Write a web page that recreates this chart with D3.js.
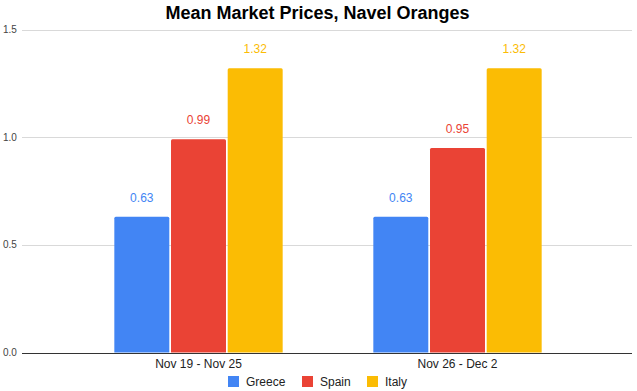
<!DOCTYPE html>
<html>
<head>
    <title>Mean Market Prices, Navel Oranges</title>
    <script src="https://d3js.org/d3.v7.min.js"></script>
    <style>
        body { margin: 0; background: #fff; }
        text { font-family: Arial, "Liberation Sans", sans-serif; }
        .grid line { stroke: #d9d9d9; stroke-width: 1px; }
        .tick-label { font-size: 10px; fill: #444; }
    </style>
</head>
<body>
<script>
    // data
    var weeks = ["Nov 19 - Nov 25", "Nov 26 - Dec 2"];
    var countries = ["Greece", "Spain", "Italy"];
    var greece = [0.63, 0.63];
    var spain = [0.99, 0.95];
    var italy = [1.32, 1.32];
    var yTicks = [0, 0.5, 1.0, 1.5];
    var colors = ["#4285F4", "#EA4335", "#FBBC04"];

    var series = [greece, spain, italy];
    var width = 637, height = 391;

    var svg = d3.select("body").append("svg")
        .attr("width", width)
        .attr("height", height);

    var y = d3.scaleLinear().domain([0, 1.5]).range([352.5, 29.5]);
    var x0 = d3.scaleBand().domain(weeks).range([69, 587])
        .paddingInner(0.35).paddingOuter(0.175);
    var x1 = d3.scaleBand().domain(countries).range([0, x0.bandwidth()])
        .paddingInner(0.03);
    var color = d3.scaleOrdinal().domain(countries).range(colors);

    // title
    svg.append("text")
        .attr("x", 317.5)
        .attr("y", 18.5)
        .attr("text-anchor", "middle")
        .style("font-size", "18px")
        .style("font-weight", "bold")
        .style("fill", "#000")
        .text("Mean Market Prices, Navel Oranges");

    // gridlines + y labels
    var grid = svg.append("g").attr("class", "grid");
    grid.selectAll("line")
        .data(yTicks.filter(d => d > 0))
        .enter().append("line")
        .attr("x1", 22).attr("x2", 632)
        .attr("y1", d => Math.round(y(d)) + 0.5)
        .attr("y2", d => Math.round(y(d)) + 0.5);

    svg.append("g").selectAll("text")
        .data(yTicks)
        .enter().append("text")
        .attr("class", "tick-label")
        .attr("x", 3)
        .attr("y", d => y(d) + 3.5)
        .text(d => d.toFixed(1));

    // bars
    var rows = [];
    weeks.forEach(function(w, i) {
        countries.forEach(function(c, j) {
            rows.push({week: w, country: c, value: series[j][i]});
        });
    });

    var bars = svg.append("g").selectAll("g")
        .data(rows)
        .enter().append("g")
        .attr("transform", d => "translate(" + (x0(d.week) + x1(d.country)) + ",0)");

    bars.append("path")
        .attr("fill", d => color(d.country))
        .attr("d", function(d) {
            var w = x1.bandwidth(), top = y(d.value), bot = y(0), r = 1.5;
            return "M0," + bot + "V" + (top + r) + "Q0," + top + " " + r + "," + top +
                "H" + (w - r) + "Q" + w + "," + top + " " + w + "," + (top + r) + "V" + bot + "Z";
        });

    bars.append("text")
        .attr("x", x1.bandwidth() / 2)
        .attr("y", d => y(d.value) - 15)
        .attr("text-anchor", "middle")
        .style("font-size", "12px")
        .style("fill", d => color(d.country))
        .text(d => d.value.toFixed(2));

    // baseline
    svg.append("line")
        .attr("x1", 22).attr("x2", 632)
        .attr("y1", Math.round(y(0)) + 0.5).attr("y2", Math.round(y(0)) + 0.5)
        .style("stroke", "#333");

    // category labels
    svg.append("g").selectAll("text")
        .data(weeks)
        .enter().append("text")
        .attr("x", d => x0(d) + x0.bandwidth() / 2)
        .attr("y", 368)
        .attr("text-anchor", "middle")
        .style("font-size", "12px")
        .style("fill", "#222")
        .text(d => d);

    // legend
    var legendX = [228, 302, 367];
    var legend = svg.append("g").selectAll("g")
        .data(countries)
        .enter().append("g")
        .attr("transform", (d, i) => "translate(" + legendX[i] + ",376)");
    legend.append("rect")
        .attr("width", 11).attr("height", 11)
        .attr("fill", d => color(d));
    legend.append("text")
        .attr("x", 18).attr("y", 10)
        .style("font-size", "12px")
        .style("fill", "#222")
        .text(d => d);
</script>
</body>
</html>
